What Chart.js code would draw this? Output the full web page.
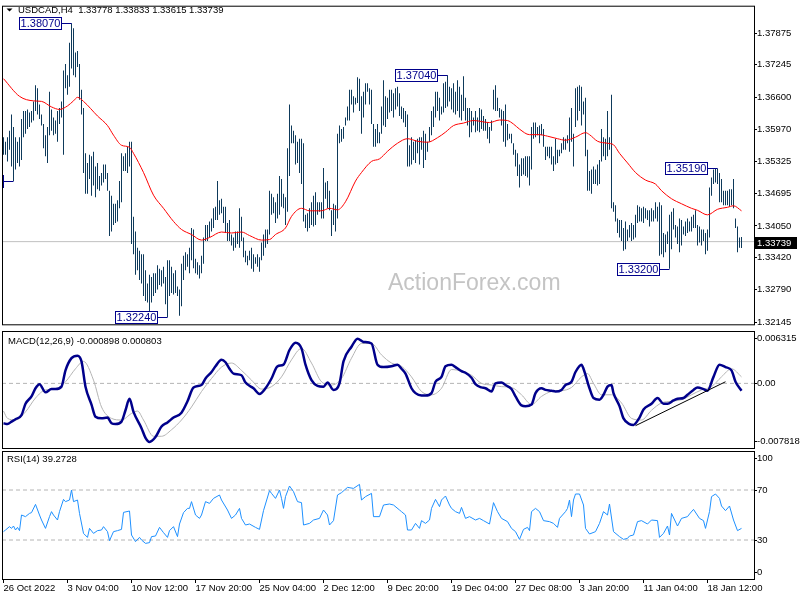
<!DOCTYPE html>
<html>
<head>
<meta charset="utf-8">
<script src="https://cdn.jsdelivr.net/npm/chart.js@4/dist/chart.umd.min.js"></script>
<style>
  body { margin: 0; background: #fff; }
  #wrap { position: relative; width: 800px; height: 600px; }
  canvas { position: absolute; left: 0; }
</style>
</head>
<body>
<div id="wrap">
  <canvas id="mainChart" width="800" height="330" style="top:0"></canvas>
  <canvas id="macdChart" width="800" height="120" style="top:330px"></canvas>
  <canvas id="rsiChart" width="800" height="150" style="top:450px"></canvas>
</div>
<script>
// ---- data (H4 bars, 26 Oct 2022 20:00 .. 20 Jan 2023) ----
const highs = [
  1.3581,1.3572,1.3581,1.3594,1.3626,1.3601,1.3581,1.3572,1.3581,1.3617,
  1.3633,1.3633,1.3636,1.3630,1.3633,1.3652,1.3684,1.3678,1.3646,1.3626,
  1.3607,1.3585,1.3601,1.3671,1.3636,1.3620,1.3614,1.3633,1.3639,1.3652,
  1.3713,1.3726,1.3704,1.3768,1.3807,1.3797,1.3749,1.3752,1.3726,1.3675,
  1.3639,1.3549,1.3530,1.3546,1.3543,1.3552,1.3523,1.3530,1.3504,1.3510,
  1.3527,1.3527,1.3510,1.3475,1.3465,1.3449,1.3449,1.3456,1.3494,1.3549,
  1.3543,1.3549,1.3562,1.3572,1.3572,1.3423,1.3394,1.3362,1.3356,1.3349,
  1.3349,1.3317,1.3291,1.3308,1.3304,1.3311,1.3311,1.3327,1.3320,1.3317,
  1.3324,1.3304,1.3337,1.3337,1.3324,1.3311,1.3317,1.3285,1.3279,1.3330,
  1.3346,1.3353,1.3349,1.3362,1.3401,1.3398,1.3340,1.3333,1.3327,1.3346,
  1.3382,1.3407,1.3407,1.3414,1.3420,1.3440,1.3443,1.3494,1.3456,1.3459,
  1.3443,1.3443,1.3411,1.3417,1.3388,1.3382,1.3394,1.3394,1.3440,1.3423,
  1.3382,1.3356,1.3346,1.3356,1.3362,1.3349,1.3343,1.3349,1.3343,1.3372,
  1.3388,1.3398,1.3398,1.3475,1.3469,1.3462,1.3452,1.3469,1.3504,1.3498,
  1.3469,1.3462,1.3559,1.3646,1.3604,1.3594,1.3585,1.3572,1.3578,1.3578,
  1.3569,1.3427,1.3430,1.3440,1.3452,1.3465,1.3472,1.3452,1.3452,1.3452,
  1.3520,1.3491,1.3494,1.3475,1.3436,1.3449,1.3446,1.3588,1.3604,1.3597,
  1.3601,1.3620,1.3642,1.3675,1.3675,1.3662,1.3659,1.3700,1.3697,1.3662,
  1.3671,1.3688,1.3688,1.3678,1.3675,1.3607,1.3597,1.3607,1.3591,1.3642,
  1.3694,1.3662,1.3659,1.3675,1.3675,1.3668,1.3678,1.3681,1.3668,1.3642,
  1.3639,1.3633,1.3626,1.3565,1.3581,1.3572,1.3575,1.3578,1.3581,1.3581,
  1.3594,1.3588,1.3572,1.3601,1.3633,1.3642,1.3671,1.3671,1.3659,1.3642,
  1.3688,1.3691,1.3704,1.3681,1.3678,1.3688,1.3671,1.3694,1.3681,1.3665,
  1.3702,1.3659,1.3639,1.3639,1.3633,1.3620,1.3633,1.3620,1.3639,1.3636,
  1.3623,1.3617,1.3610,1.3601,1.3614,1.3675,1.3684,1.3659,1.3639,1.3636,
  1.3633,1.3646,1.3607,1.3588,1.3588,1.3569,1.3556,1.3549,1.3527,1.3539,
  1.3539,1.3543,1.3543,1.3543,1.3601,1.3610,1.3610,1.3601,1.3604,1.3607,
  1.3597,1.3562,1.3562,1.3562,1.3562,1.3543,1.3578,1.3556,1.3556,1.3569,
  1.3581,1.3578,1.3585,1.3620,1.3639,1.3588,1.3678,1.3681,1.3684,1.3681,
  1.3652,1.3659,1.3556,1.3514,1.3517,1.3523,1.3517,1.3527,1.3536,1.3597,
  1.3581,1.3578,1.3633,1.3581,1.3665,1.3452,1.3446,1.3420,1.3417,1.3417,
  1.3401,1.3414,1.3398,1.3407,1.3411,1.3407,1.3427,1.3446,1.3443,1.3440,
  1.3443,1.3440,1.3436,1.3436,1.3440,1.3436,1.3452,1.3443,1.3452,1.3446,
  1.3391,1.3388,1.3394,1.3427,1.3433,1.3440,1.3407,1.3404,1.3420,1.3417,
  1.3404,1.3414,1.3420,1.3414,1.3423,1.3427,1.3436,1.3407,1.3404,1.3398,
  1.3398,1.3391,1.3398,1.3481,1.3501,1.3517,1.3518,1.3519,1.3510,1.3498,
  1.3475,1.3475,1.3475,1.3478,1.3478,1.3498,1.3420,1.3404,1.3382,1.33833
];
const lows = [
  1.3546,1.3546,1.3533,1.3556,1.3523,1.3494,1.3517,1.3530,1.3523,1.3536,
  1.3581,1.3588,1.3597,1.3601,1.3610,1.3614,1.3633,1.3626,1.3617,1.3604,
  1.3559,1.3543,1.3530,1.3585,1.3594,1.3585,1.3588,1.3572,1.3607,1.3620,
  1.3546,1.3678,1.3665,1.3681,1.3717,1.3704,1.3700,1.3720,1.3655,1.3626,
  1.3510,1.3469,1.3469,1.3498,1.3465,1.3485,1.3462,1.3478,1.3475,1.3485,
  1.3491,1.3498,1.3475,1.3385,1.3394,1.3407,1.3411,1.3414,1.3440,1.3452,
  1.3514,1.3514,1.3510,1.3523,1.3369,1.3349,1.3308,1.3317,1.3298,1.3291,
  1.3266,1.3256,1.3253,1.3233,1.3253,1.3266,1.3272,1.3279,1.3288,1.3285,
  1.3291,1.3250,1.3224,1.3266,1.3272,1.3269,1.3272,1.3266,1.3227,1.3246,
  1.3298,1.3317,1.3324,1.3311,1.3337,1.3321,1.3311,1.3308,1.3301,1.3311,
  1.3330,1.3375,1.3375,1.3382,1.3394,1.3401,1.3417,1.3417,1.3427,1.3430,
  1.3411,1.3391,1.3375,1.3375,1.3366,1.3356,1.3362,1.3369,1.3362,1.3375,
  1.3343,1.3333,1.3327,1.3337,1.3320,1.3314,1.3330,1.3324,1.3314,1.3337,
  1.3346,1.3362,1.3369,1.3388,1.3427,1.3430,1.3411,1.3420,1.3427,1.3443,
  1.3440,1.3407,1.3433,1.3504,1.3569,1.3569,1.3527,1.3530,1.3510,1.3488,
  1.3414,1.3401,1.3394,1.3401,1.3407,1.3404,1.3407,1.3427,1.3433,1.3420,
  1.3420,1.3459,1.3440,1.3436,1.3385,1.3407,1.3394,1.3420,1.3569,1.3572,
  1.3578,1.3604,1.3614,1.3614,1.3646,1.3630,1.3646,1.3649,1.3633,1.3588,
  1.3620,1.3646,1.3671,1.3646,1.3607,1.3562,1.3562,1.3569,1.3569,1.3588,
  1.3604,1.3601,1.3617,1.3630,1.3633,1.3620,1.3636,1.3642,1.3623,1.3617,
  1.3610,1.3601,1.3523,1.3523,1.3527,1.3536,1.3530,1.3549,1.3527,1.3556,
  1.3520,1.3536,1.3552,1.3572,1.3585,1.3601,1.3620,1.3633,1.3614,1.3626,
  1.3630,1.3639,1.3642,1.3652,1.3636,1.3630,1.3626,1.3633,1.3620,1.3614,
  1.3633,1.3614,1.3604,1.3581,1.3591,1.3604,1.3591,1.3594,1.3591,1.3597,
  1.3594,1.3594,1.3578,1.3569,1.3594,1.3636,1.3633,1.3633,1.3620,1.3604,
  1.3572,1.3562,1.3575,1.3578,1.3569,1.3546,1.3523,1.3504,1.3481,1.3504,
  1.3507,1.3504,1.3501,1.3485,1.3517,1.3578,1.3581,1.3585,1.3569,1.3585,
  1.3562,1.3536,1.3543,1.3539,1.3527,1.3514,1.3527,1.3530,1.3543,1.3549,
  1.3556,1.3556,1.3569,1.3552,1.3572,1.3523,1.3601,1.3614,1.3633,1.3604,
  1.3626,1.3543,1.3475,1.3475,1.3469,1.3488,1.3488,1.3485,1.3488,1.3533,
  1.3543,1.3536,1.3543,1.3556,1.3440,1.3433,1.3414,1.3391,1.3382,1.3375,
  1.3356,1.3359,1.3375,1.3382,1.3375,1.3378,1.3382,1.3411,1.3414,1.3414,
  1.3411,1.3420,1.3417,1.3404,1.3414,1.3414,1.3420,1.3414,1.3346,1.3349,
  1.3343,1.3353,1.3369,1.3320,1.3359,1.3398,1.3382,1.3369,1.3353,1.3366,
  1.3388,1.3385,1.3391,1.3394,1.3394,1.3401,1.3401,1.3366,1.3372,1.3366,
  1.3375,1.3349,1.3356,1.3382,1.3465,1.3488,1.3491,1.3488,1.3452,1.3452,
  1.3446,1.3446,1.3446,1.3443,1.3446,1.3440,1.3401,1.3353,1.3362,1.33615
];
const lastOpen = 1.33778;
const lastClose = 1.33739;

// moving average, read at sampled bars
const maBars = [0,8,15,19,24,28,32,35,37,40,47,52,55,59,63,65,70,75,80,85,89,94,99,103,109,114,119,123,129,133,136,141,144,149,153,159,163,167,171,176,179,184,188,192,197,202,207,212,217,221,225,230,235,243,248,252,255,258,263,268,272,277,281,286,291,293,297,302,305,308,312,316,321,326,329,334,339,344,347,352,357,362,365,369];
const maValues = [1.3697,1.3662,1.3653,1.3652,1.3641,1.3636,1.3643,1.3653,1.3660,1.3652,1.3623,1.3604,1.3585,1.3565,1.3561,1.3549,1.3511,1.3466,1.3440,1.3414,1.3398,1.3388,1.3377,1.3382,1.3393,1.3391,1.3393,1.3386,1.3377,1.3378,1.3388,1.3401,1.3424,1.3440,1.3435,1.3435,1.3440,1.3437,1.3453,1.3494,1.3511,1.3533,1.3538,1.3553,1.3569,1.3578,1.3573,1.3571,1.3580,1.3591,1.3604,1.3609,1.3614,1.3610,1.3615,1.3614,1.3607,1.3597,1.3586,1.3586,1.3583,1.3578,1.3575,1.3581,1.3590,1.3586,1.3573,1.3569,1.3566,1.3549,1.3530,1.3511,1.3496,1.3488,1.3475,1.3459,1.3449,1.3440,1.3436,1.3427,1.3438,1.3442,1.3445,1.3435];

// MACD(12,26,9)
const macdBars = [0,2,4,6,9,11,14,16,18,21,24,26,29,31,34,37,39,41,44,46,49,52,54,56,59,61,63,65,69,71,73,76,79,82,85,89,92,95,99,101,104,106,109,111,113,115,119,121,125,128,131,134,137,140,143,146,149,151,154,157,160,162,165,168,170,174,177,180,184,187,190,194,197,199,201,204,206,209,211,214,216,219,221,224,226,229,231,234,236,239,241,244,246,249,251,254,256,259,261,264,266,269,271,274,276,279,281,284,286,289,290,293,295,298,300,302,304,305,308,310,313,315,318,320,324,327,330,332,335,337,340,342,345,347,350,352,355,358,361,364,366,369];
const macdMain = [-0.0049,-0.0050,-0.0047,-0.0044,-0.0039,-0.0025,-0.0016,-0.0006,-0.0001,-0.0011,-0.0007,-0.0007,-0.0004,0.0016,0.0031,0.0034,0.0027,-0.0004,-0.0026,-0.0041,-0.0043,-0.0042,-0.0049,-0.0050,-0.0047,-0.0033,-0.0019,-0.0035,-0.0055,-0.0067,-0.0072,-0.0066,-0.0053,-0.0048,-0.0042,-0.0036,-0.0022,-0.0005,-0.0002,0.0006,0.0014,0.0021,0.0029,0.0026,0.0018,0.0012,0.0010,0.0001,-0.0006,-0.0013,-0.0006,0.0006,0.0021,0.0023,0.0041,0.0050,0.0043,0.0023,0.0004,-0.0003,-0.0004,0.0001,-0.0008,0.0000,0.0027,0.0045,0.0055,0.0051,0.0049,0.0023,0.0020,0.0021,0.0023,0.0018,0.0012,-0.0006,-0.0012,-0.0015,-0.0015,-0.0012,0.0002,0.0008,0.0021,0.0023,0.0020,0.0015,0.0013,0.0007,-0.0001,-0.0005,-0.0006,-0.0010,0.0000,0.0001,-0.0002,-0.0007,-0.0016,-0.0027,-0.0028,-0.0026,-0.0012,-0.0006,-0.0008,-0.0009,-0.0010,-0.0008,-0.0002,0.0002,0.0014,0.0023,0.0018,-0.0006,-0.0018,-0.0020,-0.0014,-0.0004,-0.0002,-0.0012,-0.0028,-0.0043,-0.0050,-0.0051,-0.0042,-0.0032,-0.0025,-0.0018,-0.0025,-0.0025,-0.0021,-0.0019,-0.0018,-0.0014,-0.0008,-0.0005,-0.0007,-0.0009,0.0008,0.0023,0.0020,0.0016,0.0002,-0.0009];
const signalBars = [0,2,6,11,16,21,26,31,36,40,45,49,54,59,64,67,70,75,79,84,89,94,99,104,109,114,119,124,129,134,139,144,149,154,159,164,169,174,179,184,189,194,199,204,209,214,219,224,229,234,239,244,249,254,259,264,269,274,279,284,289,292,295,299,304,309,314,319,324,329,334,339,344,349,354,359,364,369];
const macdSignal = [-0.0034,-0.0043,-0.0045,-0.0035,-0.0018,-0.0008,-0.0007,0.0002,0.0018,0.0027,0.0004,-0.0029,-0.0043,-0.0045,-0.0037,-0.0034,-0.0045,-0.0065,-0.0065,-0.0057,-0.0045,-0.0029,-0.0010,0.0006,0.0020,0.0025,0.0016,0.0004,-0.0007,-0.0004,0.0008,0.0029,0.0043,0.0025,0.0002,-0.0002,0.0006,0.0031,0.0049,0.0049,0.0035,0.0025,0.0021,0.0008,-0.0010,-0.0014,-0.0006,0.0017,0.0015,0.0010,0.0000,-0.0002,-0.0004,-0.0005,-0.0014,-0.0026,-0.0016,-0.0010,-0.0009,-0.0005,0.0008,0.0012,0.0000,-0.0014,-0.0014,-0.0024,-0.0043,-0.0045,-0.0033,-0.0024,-0.0022,-0.0020,-0.0014,-0.0008,-0.0004,0.0008,0.0018,0.0008];
const macdTrendBars = [316, 361];
const macdTrendValues = [-0.0052, 0.0002];
const macdTicks = [0.006315, 0, -0.007818];
const macdTickText = ['0.006315', '0.00', '-0.007818'];

// RSI(14)
const rsiBars = [0,1,3,4,5,6,7,8,9,11,13,14,16,18,19,21,23,24,25,27,28,30,31,33,34,35,37,38,40,42,43,45,47,49,50,52,53,55,57,59,60,63,64,66,68,69,71,73,74,76,78,80,82,83,85,87,88,90,92,93,94,96,98,99,101,103,105,108,109,112,114,116,118,119,121,123,126,128,130,133,134,136,138,139,140,141,143,145,147,149,150,153,155,158,160,162,163,165,167,169,172,175,178,179,181,184,185,188,190,193,195,198,199,201,202,204,206,208,209,211,213,214,216,218,219,221,223,224,226,228,229,231,233,236,238,240,243,245,247,249,252,254,256,258,260,262,263,264,266,268,270,273,275,277,278,281,282,283,284,285,286,288,290,291,293,296,298,300,302,303,305,308,310,312,313,315,317,319,322,324,327,328,330,332,333,334,337,339,342,343,345,348,350,351,353,354,356,358,359,361,363,365,367,369];
const rsiValues = [36.7,38,40.7,39.3,41.2,38,40.1,37.5,50,48.7,51.3,51.9,58.5,50,46,39.3,48.7,52.7,50,46,52.7,62.5,60.7,62,70,60.7,62,51.3,35.3,32.1,39.3,35.3,37.5,38,40.7,36.7,29.5,36.7,37.5,38.5,52.1,53.2,34,28.7,32.1,30,27.3,27.9,32.7,33.2,40.1,35.9,32.1,37.5,40.7,32.7,42.8,51.9,55.3,55.3,60.7,50,47.3,50,60.7,59.3,63.3,66,62,54,47.3,50,55.3,47.3,42,42.8,40.1,38.5,53.5,69.5,67.3,63.3,70,63.3,55.3,64.7,73.2,68.7,60.7,59.9,42,43.3,46,47.3,54,50,42,45.5,66,67.9,72.1,71.3,74.5,62,64.7,67.3,48.7,48.7,58,58.8,58,54,52.7,50,38,38,43.3,39.3,45.5,43.3,46,55.3,62.5,56.7,62,65.2,58,55.3,52.7,51.3,56.1,47.3,48.7,46,47.3,45.5,42.8,59.9,52.7,47.3,44.7,39.3,36.7,30.5,38.5,40.1,37.5,52.7,55.3,52.7,45.5,44.7,43.3,40.1,47.3,52.7,55.3,62,48.7,62,66.8,66.8,58,39.3,34.8,36.7,43.3,52.7,50,58.8,36.7,32.7,30.5,31.3,33.2,34,44.7,45.5,42.8,46,45.5,32.1,35.3,41.2,34,51.3,41.2,47.3,48.7,50.8,54.5,47.3,45.5,39.3,52.7,64.7,66.8,63.3,57.2,53.5,57.2,46,37.5,39.3];
const rsiTicks = [100, 70, 30, 0];
const rsiLevels = [70, 30];

// axes
const priceTicks = [1.37875, 1.37245, 1.36600, 1.35970, 1.35325, 1.34695, 1.34050, 1.33420, 1.32790, 1.32145];
const timeTickBars = [0, 32, 64, 96, 128, 160, 192, 224, 256, 288, 320, 352];
const timeLabels = ['26 Oct 2022', '3 Nov 04:00', '10 Nov 12:00', '17 Nov 20:00', '25 Nov 04:00', '2 Dec 12:00',
  '9 Dec 20:00', '19 Dec 04:00', '27 Dec 08:00', '3 Jan 20:00', '11 Jan 04:00', '18 Jan 12:00'];

// swing high / low labels
const swingBars = [5, 34, 82, 222, 333, 357];
const swingPrices = [1.34940, 1.38070, 1.32240, 1.37040, 1.33200, 1.35190];

// ---- drawing ----
const FONT = '"Liberation Sans", Arial, sans-serif';
const AXIS_SIZE = 9.5;
const X_MIN = -0.75;
const X_MAX = 375.25;
const AXIS_WIDTH = 46;

const priceBars = highs.map((h, i) => ({ x: i, y: [lows[i], h] }));
const toPoints = (xs, ys) => xs.map((x, k) => ({ x, y: ys[k] }));
const flatLine = (v) => [{ x: X_MIN, y: v }, { x: X_MAX, y: v }];

const baseOptions = (padding) => ({
  responsive: false,
  animation: false,
  devicePixelRatio: 1,
  layout: { padding, autoPadding: false },
  plugins: { legend: { display: false }, tooltip: { enabled: false } },
  events: []
});

const hiddenX = { type: 'linear', min: X_MIN, max: X_MAX, offset: false, display: false };

const blankY = (min, max) => ({
  position: 'right', min, max,
  afterFit: (s) => { s.width = AXIS_WIDTH; },
  ticks: { display: false },
  grid: { display: false },
  border: { display: false }
});

const framePlugin = {
  id: 'frame',
  afterDraw(chart) {
    const { ctx, chartArea: a } = chart;
    ctx.save();
    ctx.strokeStyle = '#000';
    ctx.lineWidth = 1;
    ctx.strokeRect(a.left + 0.5, a.top + 0.5, a.right - a.left, a.bottom - a.top);
    ctx.restore();
  }
};

function captionPlugin(text, x, y) {
  return {
    id: 'caption',
    afterDraw(chart) {
      const ctx = chart.ctx;
      ctx.save();
      ctx.font = `${AXIS_SIZE}px ${FONT}`;
      ctx.fillStyle = '#000';
      ctx.textBaseline = 'middle';
      ctx.fillText(text, x, y);
      ctx.restore();
    }
  };
}

function sideLabels(values, texts) {
  return {
    id: 'sideLabels',
    afterDraw(chart) {
      const { ctx, chartArea: a } = chart;
      const y = chart.scales.y;
      ctx.save();
      ctx.font = `${AXIS_SIZE}px ${FONT}`;
      ctx.fillStyle = '#000';
      ctx.strokeStyle = '#000';
      ctx.textBaseline = 'middle';
      values.forEach((v, k) => {
        const py = Math.min(Math.max(y.getPixelForValue(v), a.top + 7), a.bottom - 7);
        ctx.beginPath();
        ctx.moveTo(a.right, Math.round(py) + 0.5);
        ctx.lineTo(a.right + 3, Math.round(py) + 0.5);
        ctx.stroke();
        ctx.fillText(texts[k], a.right + 3, py);
      });
      ctx.restore();
    }
  };
}

const watermarkPlugin = {
  id: 'watermark',
  beforeDatasetsDraw(chart) {
    const ctx = chart.ctx;
    ctx.save();
    ctx.font = `23px ${FONT}`;
    ctx.fillStyle = '#c4c4c4';
    ctx.textBaseline = 'alphabetic';
    ctx.fillText('ActionForex.com', 388, 289.5);
    ctx.restore();
  }
};

const swingLabelPlugin = {
  id: 'swingLabels',
  afterDatasetsDraw(chart) {
    const { ctx, chartArea: a, scales: { x, y } } = chart;
    ctx.save();
    ctx.beginPath();
    ctx.rect(a.left, a.top, a.right - a.left, a.bottom - a.top);
    ctx.clip();
    ctx.font = `11px ${FONT}`;
    ctx.textAlign = 'center';
    ctx.textBaseline = 'middle';
    ctx.strokeStyle = '#00008b';
    ctx.lineWidth = 1;
    swingBars.forEach((bar, k) => {
      const bx = x.getPixelForValue(bar);
      const py = Math.round(y.getPixelForValue(swingPrices[k])) + 0.5;
      const right = Math.round(bx) - 10.5;
      const left = right - 42;
      ctx.fillStyle = '#fff';
      ctx.fillRect(left, py - 6, 42, 12);
      ctx.strokeRect(left, py - 6, 42, 12);
      ctx.beginPath();
      ctx.moveTo(right, py);
      ctx.lineTo(bx, py);
      ctx.stroke();
      ctx.fillStyle = '#00008b';
      ctx.fillText(swingPrices[k].toFixed(5), left + 21, py + 0.5);
    });
    ctx.restore();
  }
};

const priceTagPlugin = {
  id: 'priceTag',
  afterDraw(chart) {
    const { ctx, chartArea: a } = chart;
    const py = Math.round(chart.scales.y.getPixelForValue(lastClose));
    ctx.save();
    ctx.fillStyle = '#000';
    ctx.fillRect(a.right + 1, py - 5, 42, 12);
    ctx.fillStyle = '#fff';
    ctx.font = `${AXIS_SIZE}px ${FONT}`;
    ctx.textBaseline = 'middle';
    ctx.fillText(lastClose.toFixed(5), a.right + 3, py + 1);
    ctx.restore();
  }
};

const titlePlugin = {
  id: 'symbolTitle',
  afterDraw(chart) {
    const ctx = chart.ctx;
    const ohlc = [lastOpen, highs[highs.length - 1], lows[lows.length - 1], lastClose];
    ctx.save();
    ctx.fillStyle = '#000';
    ctx.beginPath();
    ctx.moveTo(6.5, 8.5);
    ctx.lineTo(12.5, 8.5);
    ctx.lineTo(9.5, 11.5);
    ctx.closePath();
    ctx.fill();
    ctx.font = `${AXIS_SIZE}px ${FONT}`;
    ctx.textBaseline = 'middle';
    ctx.fillText('USDCAD,H4  ' + ohlc.map((v) => v.toFixed(5)).join(' '), 18, 10.5);
    ctx.restore();
  }
};

// price panel
new Chart(document.getElementById('mainChart'), {
  type: 'bar',
  data: {
    datasets: [
      {
        type: 'bar', data: priceBars, backgroundColor: '#0e3a5b',
        barThickness: 1, borderWidth: 0, inflateAmount: 0, order: 1
      },
      {
        type: 'line', data: toPoints(maBars, maValues), borderColor: '#ff0000',
        borderWidth: 1, pointRadius: 0, cubicInterpolationMode: 'monotone', order: 0
      },
      {
        type: 'line', data: flatLine(lastClose), borderColor: '#c0c0c0',
        borderWidth: 1, pointRadius: 0, order: 2
      }
    ]
  },
  options: {
    ...baseOptions({ left: 2, top: 2, right: 0, bottom: 1 }),
    scales: {
      x: { ...hiddenX, grid: { offset: false } },
      y: {
        position: 'right', min: 1.32100, max: 1.38417,
        afterBuildTicks: (s) => { s.ticks = priceTicks.map((v) => ({ value: v })); },
        afterFit: (s) => { s.width = AXIS_WIDTH; },
        ticks: {
          callback: (v) => v.toFixed(5), autoSkip: false, padding: 0,
          color: '#000', font: { family: FONT, size: AXIS_SIZE }
        },
        grid: { drawOnChartArea: false, tickLength: 3, color: '#000' },
        border: { display: false }
      }
    }
  },
  plugins: [watermarkPlugin, swingLabelPlugin, priceTagPlugin, titlePlugin, framePlugin]
});

// MACD panel
new Chart(document.getElementById('macdChart'), {
  type: 'line',
  data: {
    datasets: [
      {
        data: toPoints(macdTrendBars, macdTrendValues), borderColor: '#000',
        borderWidth: 1, pointRadius: 0, order: 0
      },
      {
        data: toPoints(macdBars, macdMain), borderColor: '#00008b',
        borderWidth: 2.5, pointRadius: 0, cubicInterpolationMode: 'monotone', order: 1
      },
      {
        data: toPoints(signalBars, macdSignal), borderColor: '#b4b4b4',
        borderWidth: 1, pointRadius: 0, cubicInterpolationMode: 'monotone', order: 2
      },
      {
        data: flatLine(0), borderColor: '#b4b4b4', borderDash: [4, 3],
        borderWidth: 1, pointRadius: 0, order: 3
      }
    ]
  },
  options: {
    ...baseOptions({ left: 2, top: 1, right: 0, bottom: 2 }),
    scales: { x: hiddenX, y: blankY(-0.007941, 0.006438) }
  },
  plugins: [
    sideLabels(macdTicks, macdTickText),
    captionPlugin('MACD(12,26,9) -0.000898 0.000803', 8, 11),
    framePlugin
  ]
});

// RSI panel
new Chart(document.getElementById('rsiChart'), {
  type: 'line',
  data: {
    datasets: [
      {
        data: toPoints(rsiBars, rsiValues), borderColor: '#1e90ff',
        borderWidth: 1, pointRadius: 0, order: 0
      },
      ...rsiLevels.map((v) => ({
        data: flatLine(v), borderColor: '#b4b4b4', borderDash: [4, 3],
        borderWidth: 1, pointRadius: 0, order: 1
      }))
    ]
  },
  options: {
    ...baseOptions({ left: 2, top: 1, right: 0, bottom: 0 }),
    scales: {
      x: {
        type: 'linear', min: X_MIN, max: X_MAX, offset: false,
        afterBuildTicks: (s) => { s.ticks = timeTickBars.map((v) => ({ value: v })); },
        afterFit: (s) => { s.height = 21; },
        ticks: {
          callback: (v) => timeLabels[timeTickBars.indexOf(v)],
          autoSkip: false, maxRotation: 0, align: 'start', padding: 0,
          color: '#000', font: { family: FONT, size: AXIS_SIZE }
        },
        grid: { drawOnChartArea: false, tickLength: 4, color: '#000' },
        border: { display: false }
      },
      y: blankY(-1.2, 101.2)
    }
  },
  plugins: [
    sideLabels(rsiTicks, rsiTicks.map(String)),
    captionPlugin('RSI(14) 39.2728', 7, 9),
    framePlugin
  ]
});
</script>
</body>
</html>
